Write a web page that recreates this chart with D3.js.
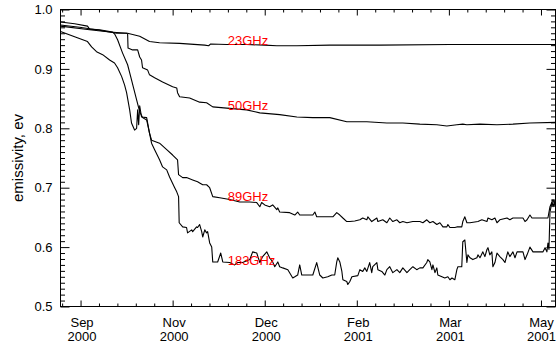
<!DOCTYPE html>
<html>
<head>
<meta charset="utf-8">
<script src="https://cdn.jsdelivr.net/npm/d3@7"></script>
<style>
  body { margin: 0; background: #fff; }
  svg { display: block; }
  text { font-family: "Liberation Sans", Arial, sans-serif; }
</style>
</head>
<body>
<div id="chart"></div>
<script>
// days counted from the "Sep 2000" tick, value = emissivity
const ch23 = [
  [-9.8, 0.972], [4.4, 0.966], [14.2, 0.962], [23.0, 0.960], [28.9, 0.955], [33.7, 0.946],
  [38.6, 0.944], [48.4, 0.943], [60.7, 0.940], [62.6, 0.939], [63.6, 0.942], [71.4, 0.941],
  [81.2, 0.941], [90.0, 0.940], [95.9, 0.939], [105.7, 0.939], [121.8, 0.940], [146.2, 0.940],
  [180.5, 0.941], [232.1, 0.941]
];

const ch50 = [
  [-9.8, 0.974], [-0.5, 0.970], [9.3, 0.965], [17.6, 0.960], [22.5, 0.960], [23.0, 0.959],
  [23.2, 0.935], [25.4, 0.932], [27.9, 0.932], [28.9, 0.920], [29.8, 0.915], [30.3, 0.902],
  [32.8, 0.898], [33.7, 0.890], [36.2, 0.885], [40.1, 0.878], [45.0, 0.870], [47.0, 0.868],
  [47.4, 0.860], [48.4, 0.853], [53.3, 0.851], [58.2, 0.844], [61.6, 0.843], [64.6, 0.836],
  [71.4, 0.834], [81.2, 0.831], [87.6, 0.826], [97.3, 0.823], [105.7, 0.819], [113.5, 0.818],
  [121.8, 0.818], [130.1, 0.811], [139.9, 0.811], [149.7, 0.809], [157.5, 0.809], [165.8, 0.807],
  [174.1, 0.806], [179.0, 0.804], [183.9, 0.806], [186.8, 0.807], [188.8, 0.806], [195.2, 0.807],
  [203.5, 0.806], [211.3, 0.807], [219.6, 0.809], [232.1, 0.810]
];

const ch89 = [
  [-9.8, 0.979], [-2.9, 0.976], [3.4, 0.972], [4.4, 0.967], [9.3, 0.966], [15.7, 0.962],
  [16.6, 0.959], [18.1, 0.949], [20.5, 0.927], [23.0, 0.907], [24.5, 0.887], [25.9, 0.868],
  [27.4, 0.848], [28.9, 0.828], [30.3, 0.818], [32.3, 0.814], [33.7, 0.792], [34.7, 0.780],
  [38.6, 0.775], [42.1, 0.764], [45.0, 0.755], [47.4, 0.747], [47.9, 0.722], [49.9, 0.717],
  [51.8, 0.717], [54.8, 0.713], [57.2, 0.710], [58.2, 0.708], [59.7, 0.705], [61.6, 0.705],
  [63.1, 0.700], [64.6, 0.685], [68.0, 0.683], [72.9, 0.680], [77.8, 0.676], [82.7, 0.676],
  [86.1, 0.675], [87.6, 0.668], [88.5, 0.675], [90.0, 0.671], [92.4, 0.668], [93.9, 0.671],
  [95.9, 0.663], [96.4, 0.666], [97.3, 0.659], [102.2, 0.658], [104.7, 0.654], [106.1, 0.659],
  [107.1, 0.654], [113.5, 0.654], [114.5, 0.659], [115.4, 0.651], [123.3, 0.651], [125.2, 0.658],
  [126.7, 0.654], [128.2, 0.649], [130.1, 0.643], [131.6, 0.643], [134.0, 0.644], [136.5, 0.646],
  [137.9, 0.649], [139.9, 0.646], [140.4, 0.651], [142.3, 0.643], [144.8, 0.649], [145.3, 0.643],
  [147.7, 0.646], [149.7, 0.641], [151.1, 0.649], [152.6, 0.643], [154.6, 0.646], [156.0, 0.641],
  [157.5, 0.643], [159.5, 0.641], [162.4, 0.643], [165.8, 0.643], [167.3, 0.641], [169.2, 0.646],
  [170.7, 0.641], [172.2, 0.643], [174.1, 0.638], [175.6, 0.641], [177.1, 0.634], [179.0, 0.634],
  [179.5, 0.638], [180.5, 0.633], [182.9, 0.633], [183.9, 0.634], [186.3, 0.634], [186.8, 0.643],
  [187.8, 0.651], [188.8, 0.641], [190.3, 0.641], [194.2, 0.643], [196.1, 0.646], [198.6, 0.643],
  [199.1, 0.649], [201.0, 0.646], [202.5, 0.649], [203.5, 0.641], [204.9, 0.646], [208.4, 0.649],
  [209.8, 0.646], [211.3, 0.649], [216.2, 0.649], [217.2, 0.643], [218.2, 0.646], [219.6, 0.654],
  [220.6, 0.649], [228.4, 0.649], [229.4, 0.668], [230.4, 0.676], [230.9, 0.668], [232.0, 0.680]
];

const ch183 = [
  [-9.8, 0.963], [-2.9, 0.954], [3.4, 0.946], [5.4, 0.937], [7.8, 0.929], [10.8, 0.924],
  [14.2, 0.915], [16.6, 0.910], [18.1, 0.902], [20.1, 0.887], [21.5, 0.873], [22.5, 0.860],
  [24.0, 0.831], [24.9, 0.809], [26.4, 0.797], [27.4, 0.800], [27.9, 0.831], [28.4, 0.806],
  [28.9, 0.838], [29.8, 0.819], [32.3, 0.818], [33.7, 0.792], [34.7, 0.775], [36.2, 0.764],
  [38.6, 0.747], [40.1, 0.735], [42.1, 0.730], [43.5, 0.718], [46.0, 0.700], [47.0, 0.693],
  [47.9, 0.685], [48.2, 0.641], [49.9, 0.634], [51.8, 0.633], [52.3, 0.624], [54.3, 0.629],
  [54.8, 0.626], [56.7, 0.634], [57.2, 0.633], [58.2, 0.638], [59.2, 0.626], [59.7, 0.617],
  [60.7, 0.629], [61.6, 0.624], [62.1, 0.626], [63.1, 0.607], [64.1, 0.600], [64.6, 0.575],
  [67.0, 0.575], [68.5, 0.590], [69.5, 0.575], [72.9, 0.574], [75.3, 0.570], [76.8, 0.574],
  [79.2, 0.574], [82.7, 0.579], [84.1, 0.592], [86.1, 0.590], [87.6, 0.574], [89.0, 0.584],
  [91.0, 0.592], [92.4, 0.582], [93.9, 0.575], [94.9, 0.567], [96.4, 0.575], [97.3, 0.567],
  [98.8, 0.565], [101.3, 0.562], [103.7, 0.548], [104.7, 0.550], [106.1, 0.553], [107.1, 0.570],
  [108.1, 0.553], [113.5, 0.553], [115.4, 0.574], [116.9, 0.553], [118.4, 0.548], [120.8, 0.550],
  [122.8, 0.553], [124.2, 0.553], [125.2, 0.575], [125.7, 0.582], [126.7, 0.575], [127.7, 0.559],
  [128.2, 0.545], [130.1, 0.542], [130.6, 0.537], [131.6, 0.542], [132.6, 0.550], [135.5, 0.552],
  [136.5, 0.562], [137.9, 0.559], [138.9, 0.565], [139.9, 0.559], [141.3, 0.574], [142.3, 0.557],
  [142.8, 0.567], [144.8, 0.574], [145.3, 0.562], [147.2, 0.559], [148.7, 0.553], [149.7, 0.562],
  [151.1, 0.567], [152.6, 0.557], [154.6, 0.562], [156.0, 0.557], [157.5, 0.565], [159.5, 0.557],
  [160.9, 0.562], [162.4, 0.567], [164.3, 0.562], [165.8, 0.565], [167.3, 0.565], [169.2, 0.574],
  [169.7, 0.579], [170.7, 0.575], [171.7, 0.562], [172.2, 0.570], [173.2, 0.557], [174.1, 0.565],
  [174.6, 0.553], [176.6, 0.550], [178.0, 0.548], [179.5, 0.550], [180.5, 0.545], [181.5, 0.548],
  [182.9, 0.545], [183.9, 0.562], [184.4, 0.567], [186.3, 0.567], [186.8, 0.609], [187.8, 0.612],
  [188.8, 0.574], [189.3, 0.587], [190.3, 0.582], [191.7, 0.579], [193.7, 0.582], [194.2, 0.587],
  [195.2, 0.582], [196.6, 0.592], [197.6, 0.584], [198.6, 0.596], [199.1, 0.599], [200.0, 0.587],
  [201.0, 0.592], [201.5, 0.567], [202.5, 0.574], [203.5, 0.590], [204.9, 0.584], [206.4, 0.579],
  [207.4, 0.574], [208.4, 0.587], [208.8, 0.592], [209.8, 0.584], [211.3, 0.592], [212.3, 0.582],
  [213.3, 0.592], [216.2, 0.592], [217.2, 0.579], [218.2, 0.587], [219.6, 0.600], [221.1, 0.592],
  [226.0, 0.592], [227.0, 0.599], [227.9, 0.592], [228.4, 0.607], [228.9, 0.596], [229.4, 0.659],
  [230.4, 0.676], [230.9, 0.680], [232.0, 0.668]
];

const seriesNames = ["23GHz", "50GHz", "89GHz", "183GHz"];
const labelDay = 71.9;
const labelValues = [0.940, 0.831, 0.678, 0.570];

const majorDays = [0, 45, 90, 135, 180, 225];
const monthLabels = ["Sep", "Nov", "Dec", "Feb", "Mar", "May"];
const yearLabels = ["2000", "2000", "2000", "2001", "2001", "2001"];
const yTicks = [0.5, 0.6, 0.7, 0.8, 0.9, 1.0];

const width = 557, height = 346;
const margin = { top: 9.5, right: 1.5, bottom: 39.5, left: 60.5 };
const innerWidth = width - margin.left - margin.right;
const innerHeight = height - margin.top - margin.bottom;

const svg = d3.select("#chart").append("svg")
  .attr("width", width)
  .attr("height", height);

const g = svg.append("g")
  .attr("transform", `translate(${margin.left},${margin.top})`);

const x = d3.scaleLinear().domain([-9.8, 232.1]).range([0, innerWidth]);
const y = d3.scaleLinear().domain([0.5, 1.0]).range([innerHeight, 0]);

const minorDays = d3.range(-9, 232.1, 9).filter(d => !majorDays.includes(d));
const minorY = d3.range(0.51, 1.0, 0.01).map(v => +v.toFixed(2)).filter(v => !yTicks.includes(v));

// drop the axis path and the empty tick texts, keep only the tick marks
const tidy = sel => sel.call(s => s.select(".domain").remove())
  .call(s => s.selectAll(".tick text").remove())
  .call(s => s.selectAll(".tick line").attr("stroke", "#000"));

// ticks, all pointing inward like the original
g.append("g").attr("transform", `translate(0,${innerHeight})`)
  .call(d3.axisBottom(x).tickValues(majorDays).tickSize(-6)).call(tidy);
g.append("g").attr("transform", `translate(0,${innerHeight})`)
  .call(d3.axisBottom(x).tickValues(minorDays).tickSize(-3)).call(tidy);
g.append("g")
  .call(d3.axisTop(x).tickValues(majorDays).tickSize(-6)).call(tidy);
g.append("g")
  .call(d3.axisTop(x).tickValues(minorDays).tickSize(-3)).call(tidy);

g.append("g")
  .call(d3.axisLeft(y).tickValues(yTicks).tickSize(-9)).call(tidy);
g.append("g")
  .call(d3.axisLeft(y).tickValues(minorY).tickSize(-4.5)).call(tidy);
g.append("g").attr("transform", `translate(${innerWidth},0)`)
  .call(d3.axisRight(y).tickValues(yTicks).tickSize(-9)).call(tidy);
g.append("g").attr("transform", `translate(${innerWidth},0)`)
  .call(d3.axisRight(y).tickValues(minorY).tickSize(-4.5)).call(tidy);

g.append("rect")
  .attr("width", innerWidth)
  .attr("height", innerHeight)
  .attr("fill", "none")
  .attr("stroke", "#000")
  .attr("stroke-width", 1);

// tick labels
g.selectAll(".ylab")
  .data(yTicks)
  .enter().append("text")
  .attr("x", -8)
  .attr("y", d => y(d))
  .attr("dy", "0.36em")
  .attr("text-anchor", "end")
  .attr("font-size", "13px")
  .text(d => d3.format(".1f")(d));

g.selectAll(".xmonth")
  .data(majorDays)
  .enter().append("text")
  .attr("x", d => Math.min(x(d) + 1.5, innerWidth - 14))
  .attr("y", innerHeight + 20)
  .attr("text-anchor", "middle")
  .attr("font-size", "13px")
  .text((d, i) => monthLabels[i]);

g.selectAll(".xyear")
  .data(majorDays)
  .enter().append("text")
  .attr("x", d => Math.min(x(d) + 1.5, innerWidth - 14))
  .attr("y", innerHeight + 34.5)
  .attr("text-anchor", "middle")
  .attr("font-size", "13px")
  .text((d, i) => yearLabels[i]);

svg.append("text")
  .attr("transform", `translate(23,${margin.top + innerHeight / 2}) rotate(-90)`)
  .attr("text-anchor", "middle")
  .attr("font-size", "15px")
  .text("emissivity, ev");

// lines
const line = d3.line()
  .x(d => x(d[0]))
  .y(d => y(d[1]));

g.selectAll(".series")
  .data([ch23, ch50, ch89, ch183])
  .enter().append("path")
  .attr("d", line)
  .attr("fill", "none")
  .attr("stroke", "#000")
  .attr("stroke-width", 1.1)
  .attr("stroke-linejoin", "round");

g.selectAll(".slab")
  .data(seriesNames)
  .enter().append("text")
  .attr("x", x(labelDay))
  .attr("y", (d, i) => y(labelValues[i]))
  .attr("fill", "#ff0000")
  .attr("font-size", "13px")
  .text(d => d);
</script>
</body>
</html>
